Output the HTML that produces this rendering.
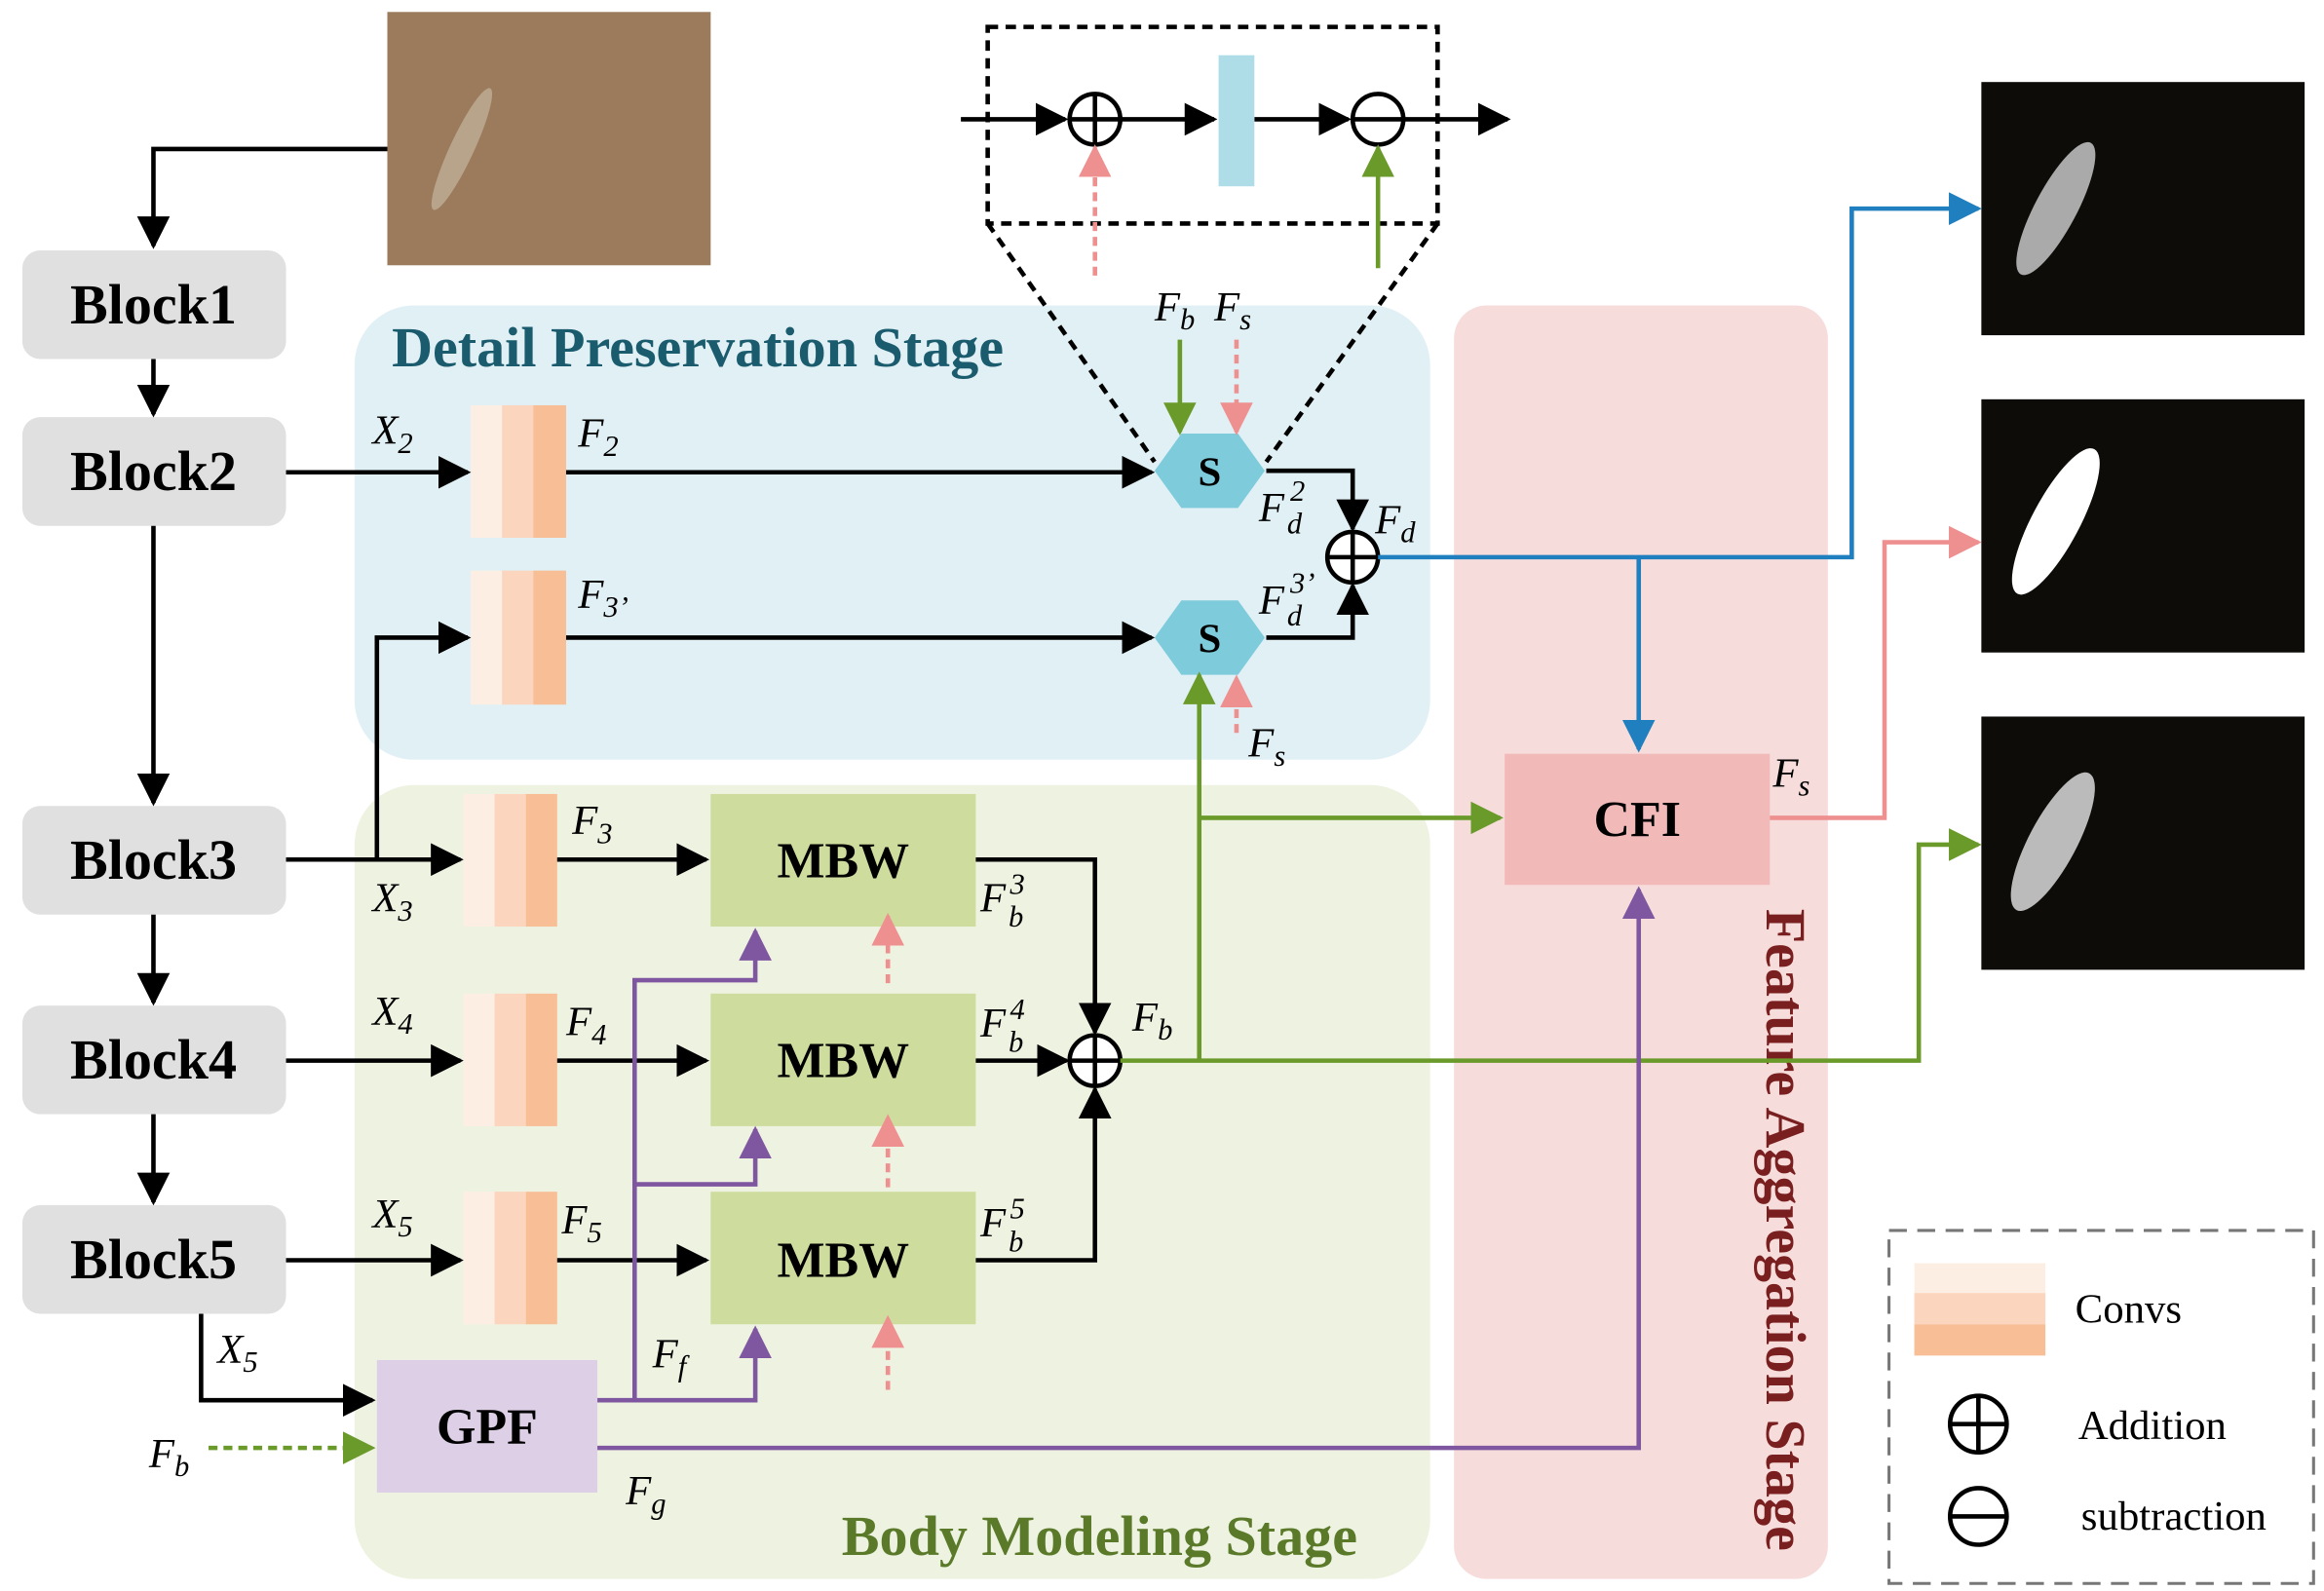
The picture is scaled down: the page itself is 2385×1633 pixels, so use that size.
<!DOCTYPE html>
<html><head><meta charset="utf-8"><style>
html,body{margin:0;padding:0;background:#fff;}
svg{display:block;}
text{font-family:"Liberation Serif",serif;}
.b{font-weight:bold;font-size:34px;}
.t{font-weight:bold;font-size:38px;}
.l{font-style:italic;font-size:28px;}
.s{font-size:20px;}
</style></head><body>
<svg width="2385" height="1633" viewBox="0 0 1560 1068" xmlns="http://www.w3.org/2000/svg">
<defs>
<marker id="ab" viewBox="0 0 10 10" markerWidth="22" markerHeight="22" refX="9" refY="5" orient="auto" markerUnits="userSpaceOnUse"><path d="M0,0 L10,5 L0,10 z" fill="#1f7fbf"/></marker>
<marker id="ag" viewBox="0 0 10 10" markerWidth="22" markerHeight="22" refX="9" refY="5" orient="auto" markerUnits="userSpaceOnUse"><path d="M0,0 L10,5 L0,10 z" fill="#6a9a2a"/></marker>
<marker id="ap" viewBox="0 0 10 10" markerWidth="22" markerHeight="22" refX="9" refY="5" orient="auto" markerUnits="userSpaceOnUse"><path d="M0,0 L10,5 L0,10 z" fill="#ee9090"/></marker>
<marker id="au" viewBox="0 0 10 10" markerWidth="22" markerHeight="22" refX="9" refY="5" orient="auto" markerUnits="userSpaceOnUse"><path d="M0,0 L10,5 L0,10 z" fill="#7e57a0"/></marker>
<marker id="a" viewBox="0 0 10 10" markerWidth="22" markerHeight="22" refX="9" refY="5" orient="auto" markerUnits="userSpaceOnUse"><path d="M0,0 L10,5 L0,10 z" fill="#000"/></marker>
</defs>
<rect x="238" y="205" width="722" height="305" rx="40" fill="#e0f0f5"/>
<rect x="238" y="527" width="722" height="533" rx="40" fill="#eef2e1"/>
<rect x="976" y="205" width="251" height="855" rx="22" fill="#f7dcdc"/>
<text x="263" y="246" class="t" fill="#1a5c6e">Detail Preservation Stage</text>
<text x="565" y="1044" class="t" fill="#5a7a2a">Body Modeling Stage</text>
<text transform="translate(1186,610) rotate(90)" class="t" fill="#7a1f1f">Feature Aggregation Stage</text>
<rect x="260" y="8" width="217" height="170" fill="#8f6f52"/>
<rect x="260" y="8" width="217" height="170" fill="#b08f6f" opacity="0.4"/>
<ellipse cx="310" cy="100" rx="8" ry="45" transform="rotate(25 310 100)" fill="#b8a48a"/>
<g fill="#e0e0e0">
<rect x="15" y="168" width="177" height="73" rx="12"/>
<rect x="15" y="280" width="177" height="73" rx="12"/>
<rect x="15" y="541" width="177" height="73" rx="12"/>
<rect x="15" y="675" width="177" height="73" rx="12"/>
<rect x="15" y="809" width="177" height="73" rx="12"/>
</g>
<g class="t" text-anchor="middle">
<text x="103" y="217">Block1</text><text x="103" y="329">Block2</text>
<text x="103" y="590">Block3</text><text x="103" y="724">Block4</text><text x="103" y="858">Block5</text>
</g>
<g>
<g transform="translate(316,272)"><rect width="21" height="89" fill="#fdeee4"/><rect x="21" width="21" height="89" fill="#fbd5bd"/><rect x="42" width="22" height="89" fill="#f8be95"/></g>
<g transform="translate(316,383)"><rect width="21" height="90" fill="#fdeee4"/><rect x="21" width="21" height="90" fill="#fbd5bd"/><rect x="42" width="22" height="90" fill="#f8be95"/></g>
<g transform="translate(311,533)"><rect width="21" height="89" fill="#fdeee4"/><rect x="21" width="21" height="89" fill="#fbd5bd"/><rect x="42" width="21" height="89" fill="#f8be95"/></g>
<g transform="translate(311,667)"><rect width="21" height="89" fill="#fdeee4"/><rect x="21" width="21" height="89" fill="#fbd5bd"/><rect x="42" width="21" height="89" fill="#f8be95"/></g>
<g transform="translate(311,800)"><rect width="21" height="89" fill="#fdeee4"/><rect x="21" width="21" height="89" fill="#fbd5bd"/><rect x="42" width="21" height="89" fill="#f8be95"/></g>
</g>
<g fill="#cedd9e"><rect x="477" y="533" width="178" height="89"/><rect x="477" y="667" width="178" height="89"/><rect x="477" y="800" width="178" height="89"/></g>
<g class="b" text-anchor="middle"><text x="566" y="589">MBW</text><text x="566" y="723">MBW</text><text x="566" y="857">MBW</text></g>
<rect x="253" y="913" width="148" height="89" fill="#dccfe6"/><text x="327" y="969" class="b" text-anchor="middle">GPF</text>
<rect x="1010" y="506" width="178" height="88" fill="#f2b9b9"/><text x="1099" y="561" class="b" text-anchor="middle">CFI</text>
<polygon points="775,316 793,291 831,291 849,316 831,341 793,341" fill="#7ecbdc"/>
<polygon points="775,428 793,403 831,403 849,428 831,453 793,453" fill="#7ecbdc"/>
<text x="812" y="326" font-weight="bold" font-size="28" text-anchor="middle">S</text>
<text x="812" y="438" font-weight="bold" font-size="28" text-anchor="middle">S</text>
<g fill="#0d0c08"><rect x="1330" y="55" width="217" height="170"/><rect x="1330" y="268" width="217" height="170"/><rect x="1330" y="481" width="217" height="170"/></g>
<ellipse cx="1380" cy="140" rx="14" ry="50" transform="rotate(28 1380 140)" fill="#aaa"/>
<ellipse cx="1380" cy="350" rx="16" ry="55" transform="rotate(28 1380 350)" fill="#fff"/>
<ellipse cx="1378" cy="565" rx="16" ry="52" transform="rotate(28 1378 565)" fill="#bbb"/>
<g stroke="#000" stroke-width="3" fill="none" marker-end="url(#a)">
<path d="M260,100 H103 V165"/>
<path d="M103,241 V278"/><path d="M103,353 V539"/><path d="M103,614 V673"/><path d="M103,748 V807"/>
<path d="M192,317 H314"/><path d="M380,317 H773"/>
<path d="M192,577 H309"/><path d="M253,577 V428 H314"/><path d="M380,428 H773"/>
<path d="M850,316 H908 V355"/><path d="M850,428 H908 V393"/>
<path d="M374,577 H474"/><path d="M192,712 H309"/><path d="M374,712 H474"/><path d="M192,846 H309"/><path d="M374,846 H474"/>
<path d="M655,577 H735 V693"/><path d="M655,712 H716"/><path d="M655,846 H735 V731"/>
<path d="M135,882 V940 H250"/>
<path d="M645,80 H715"/><path d="M752,80 H815"/><path d="M842,80 H905"/><path d="M942,80 H1012"/>
</g>
<g stroke="#000" stroke-width="3" fill="#fff">
<circle cx="908" cy="374" r="17"/><circle cx="735" cy="712" r="17"/><circle cx="735" cy="80" r="17"/><circle cx="925" cy="80" r="17"/>
</g>
<g stroke="#000" stroke-width="3"><path d="M891,374H925M908,357V391M718,712H752M735,695V729M718,80H752M735,63V97M908,80H942"/></g>
<rect x="818" y="37" width="24" height="88" fill="#aedde8"/>
<g stroke="#000" stroke-width="3" fill="none" stroke-dasharray="7,5">
<rect x="663" y="18" width="302" height="132"/><path d="M663,150 L775,310 M965,150 L850,310"/>
</g>
<g stroke="#1f7fbf" stroke-width="3" fill="none"><path d="M925,374 H1243 V140 H1328" marker-end="url(#ab)"/><path d="M1100,374 V503" marker-end="url(#ab)"/></g>
<g stroke="#6a9a2a" stroke-width="3" fill="none">
<path d="M752,712 H1288 V567 H1328" marker-end="url(#ag)"/>
<path d="M805,712 V453" marker-end="url(#ag)"/>
<path d="M805,549 H1007" marker-end="url(#ag)"/>
<path d="M792,228 V290" marker-end="url(#ag)"/>
<path d="M925,180 V99" marker-end="url(#ag)"/>
<path d="M140,972 H250" stroke-dasharray="6,4" marker-end="url(#ag)"/>
</g>
<g stroke="#ee9090" stroke-width="3" fill="none">
<path d="M1188,549 H1265 V364 H1328" marker-end="url(#ap)"/>
<g stroke-dasharray="6,4"><path d="M830,228 V290" marker-end="url(#ap)"/><path d="M830,492 V455" marker-end="url(#ap)"/>
<path d="M596,660 V615" marker-end="url(#ap)"/><path d="M596,797 V750" marker-end="url(#ap)"/><path d="M596,933 V885" marker-end="url(#ap)"/>
<path d="M735,185 V99" marker-end="url(#ap)"/></g>
</g>
<g stroke="#7e57a0" stroke-width="3" fill="none">
<path d="M401,940 H507 V892" marker-end="url(#au)"/>
<path d="M426,940 V658 H507 V625" marker-end="url(#au)"/>
<path d="M426,795 H507 V758" marker-end="url(#au)"/>
<path d="M401,972 H1100 V597" marker-end="url(#au)"/>
</g>
<g class="l">
<text x="250" y="298">X<tspan class="s" dy="6">2</tspan></text>
<text x="388" y="300">F<tspan class="s" dy="6">2</tspan></text>
<text x="388" y="408">F<tspan class="s" dy="6">3’</tspan></text>
<text x="250" y="612">X<tspan class="s" dy="6">3</tspan></text>
<text x="384" y="560">F<tspan class="s" dy="6">3</tspan></text>
<text x="250" y="688">X<tspan class="s" dy="6">4</tspan></text>
<text x="380" y="695">F<tspan class="s" dy="6">4</tspan></text>
<text x="250" y="824">X<tspan class="s" dy="6">5</tspan></text>
<text x="377" y="828">F<tspan class="s" dy="6">5</tspan></text>
<text x="146" y="915">X<tspan class="s" dy="6">5</tspan></text>
<text x="100" y="985">F<tspan class="s" dy="6">b</tspan></text>
<text x="438" y="918">F<tspan class="s" dy="6">f</tspan></text>
<text x="420" y="1010">F<tspan class="s" dy="6">g</tspan></text>
<text x="775" y="215">F<tspan class="s" dy="6">b</tspan></text>
<text x="815" y="215">F<tspan class="s" dy="6">s</tspan></text>
<text x="845" y="350">F</text><text x="866" y="336" class="s">2</text><text x="864" y="358" class="s">d</text>
<text x="845" y="412">F</text><text x="866" y="398" class="s">3’</text><text x="864" y="420" class="s">d</text>
<text x="923" y="358">F<tspan class="s" dy="6">d</tspan></text>
<text x="838" y="508">F<tspan class="s" dy="6">s</tspan></text>
<text x="658" y="612">F</text><text x="678" y="600" class="s">3</text><text x="677" y="622" class="s">b</text>
<text x="658" y="696">F</text><text x="678" y="684" class="s">4</text><text x="677" y="706" class="s">b</text>
<text x="658" y="830">F</text><text x="678" y="818" class="s">5</text><text x="677" y="840" class="s">b</text>
<text x="760" y="692">F<tspan class="s" dy="6">b</tspan></text>
<text x="1190" y="528">F<tspan class="s" dy="6">s</tspan></text>
</g>
<rect x="1268" y="826" width="285" height="237" fill="none" stroke="#777" stroke-width="2" stroke-dasharray="12,7"/>
<rect x="1285" y="848" width="88" height="20" fill="#fdeee4"/><rect x="1285" y="868" width="88" height="21" fill="#fbd5bd"/><rect x="1285" y="889" width="88" height="21" fill="#f8be95"/>
<text x="1393" y="888" font-size="28">Convs</text>
<g stroke="#000" stroke-width="3" fill="none"><circle cx="1328" cy="956" r="19"/><path d="M1309,956H1347M1328,937V975"/><circle cx="1328" cy="1018" r="19"/><path d="M1309,1018H1347"/></g>
<text x="1395" y="966" font-size="28">Addition</text>
<text x="1397" y="1027" font-size="28">subtraction</text>
</svg>
</body></html>
